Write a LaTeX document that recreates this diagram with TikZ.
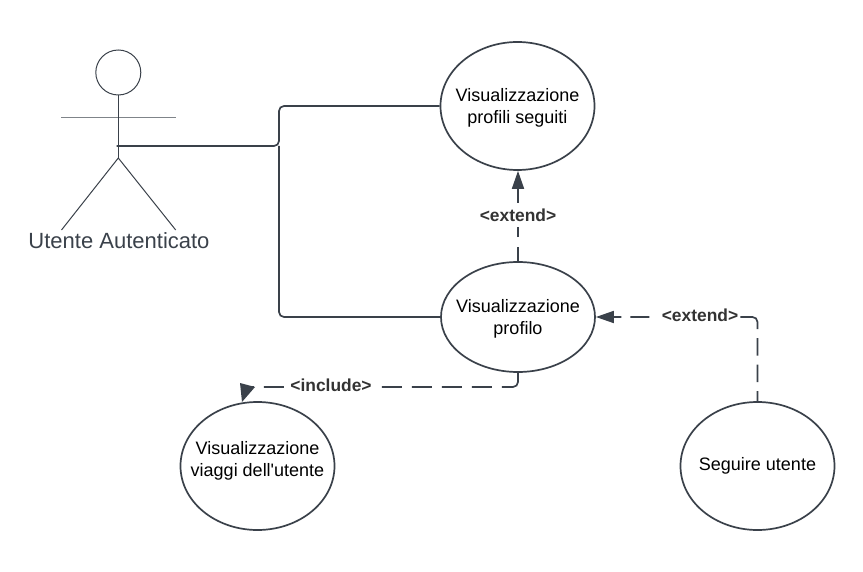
\documentclass[tikz,border=0pt]{standalone}
\usepackage{fontspec}
\setmainfont{Liberation Sans}
\newfontfamily\straightfont{Liberation Sans}
\usetikzlibrary{shapes.geometric,arrows.meta}
\definecolor{ink}{HTML}{3A414A}
\definecolor{armgrey}{HTML}{7F8489}
\definecolor{lbl}{HTML}{333333}
\tikzset{
  casetext/.style={align=center,font=\fontsize{18}{22.3}\selectfont,text=black,inner sep=0pt},
  usecase/.style={draw=ink,line width=1.7pt,ellipse,minimum width=154pt,minimum height=128pt,inner sep=0pt},
  actorline/.style={draw=ink,line width=1pt},
  assoc/.style={draw=ink,line width=1.7pt,rounded corners=5pt},
  dep/.style={draw=ink,line width=1.7pt,rounded corners=5pt},
  headtip/.style={-{Triangle[length=18pt,width=12pt,fill=ink]}},
  deplabel/.style={inner sep=1pt,font=\bfseries\fontsize{17.4}{20}\selectfont,text=lbl}
}
\begin{document}
\begin{tikzpicture}[x=1pt,y=-1pt]
\useasboundingbox (0,0) rectangle (863,572);
\node[usecase,label={[casetext,yshift=-1.5pt]center:Visualizzazione\\profili seguiti}] (seguiti) at (517.5,106) {};
\node[usecase,minimum height=110pt,label={[casetext,yshift=-1.5pt]center:Visualizzazione\\profilo}] (profilo) at (518,317) {};
\node[usecase,label={[casetext,yshift=5pt]center:Visualizzazione\\viaggi dell{\straightfont '}utente}] (viaggi) at (257.5,466) {};
\node[usecase,label={[casetext]center:Seguire utente}] (seguire) at (757.5,466) {};
% actor
\node[draw=ink,line width=1pt,circle,minimum size=45pt,inner sep=0pt] (head) at (118.3,72.5) {};
\coordinate (hip) at (118.3,158);
\coordinate (armL) at (61,118);
\coordinate (armR) at (176,118);
\coordinate (footL) at (61.5,230);
\coordinate (footR) at (175.7,230);
\coordinate (hand) at (116.5,146);
\coordinate (junction) at (279,146);
\draw[draw=armgrey,line width=1pt] (armL) -- (armR);
\draw[actorline] (head.south) -- (hip);
\draw[actorline] (footL) -- (hip) -- (footR);
\node[font=\fontsize{22}{26}\selectfont,text=ink] (actorname) at (119,241) {Utente Autenticato};
% associations
\draw[assoc] (hand) -- (junction) -- (junction |- seguiti.west) -- (seguiti.west);
\draw[assoc] (junction) -- (junction |- profilo.west) -- (profilo.west);
% dependencies
\draw[dep,headtip,dash pattern=on 20pt off 10pt,dash phase=6pt] (profilo.north) -- (profilo.north |- seguiti.south);
\node[deplabel,fill=white,minimum height=24pt] (extA) at (518,215) {<extend>};
\draw[dep,headtip,dash pattern=on 10pt off 9pt on 17.5pt off 9pt on 17.5pt off 9pt on 27pt off 91pt on 19pt off 9pt on 30pt] (seguire.north) |- (profilo.east);
\node[deplabel] (extB) at (700,315) {<extend>};
\coordinate (inclend) at (245,387);
\coordinate (includeA) at (240,383);
\coordinate (includeB) at (255,387);
\coordinate (includeC) at (242,402);
\draw[dep,dash pattern=on 28pt off 10pt on 20pt off 10pt on 20pt off 10pt on 20pt off 10pt on 20pt off 98pt on 20pt off 10pt on 20pt] (profilo.south) |- (inclend);
\node[deplabel] (inclabel) at (331,385) {<include>};
\fill[ink] (includeA) -- (includeB) -- (includeC) -- cycle;
\end{tikzpicture}
\end{document}
